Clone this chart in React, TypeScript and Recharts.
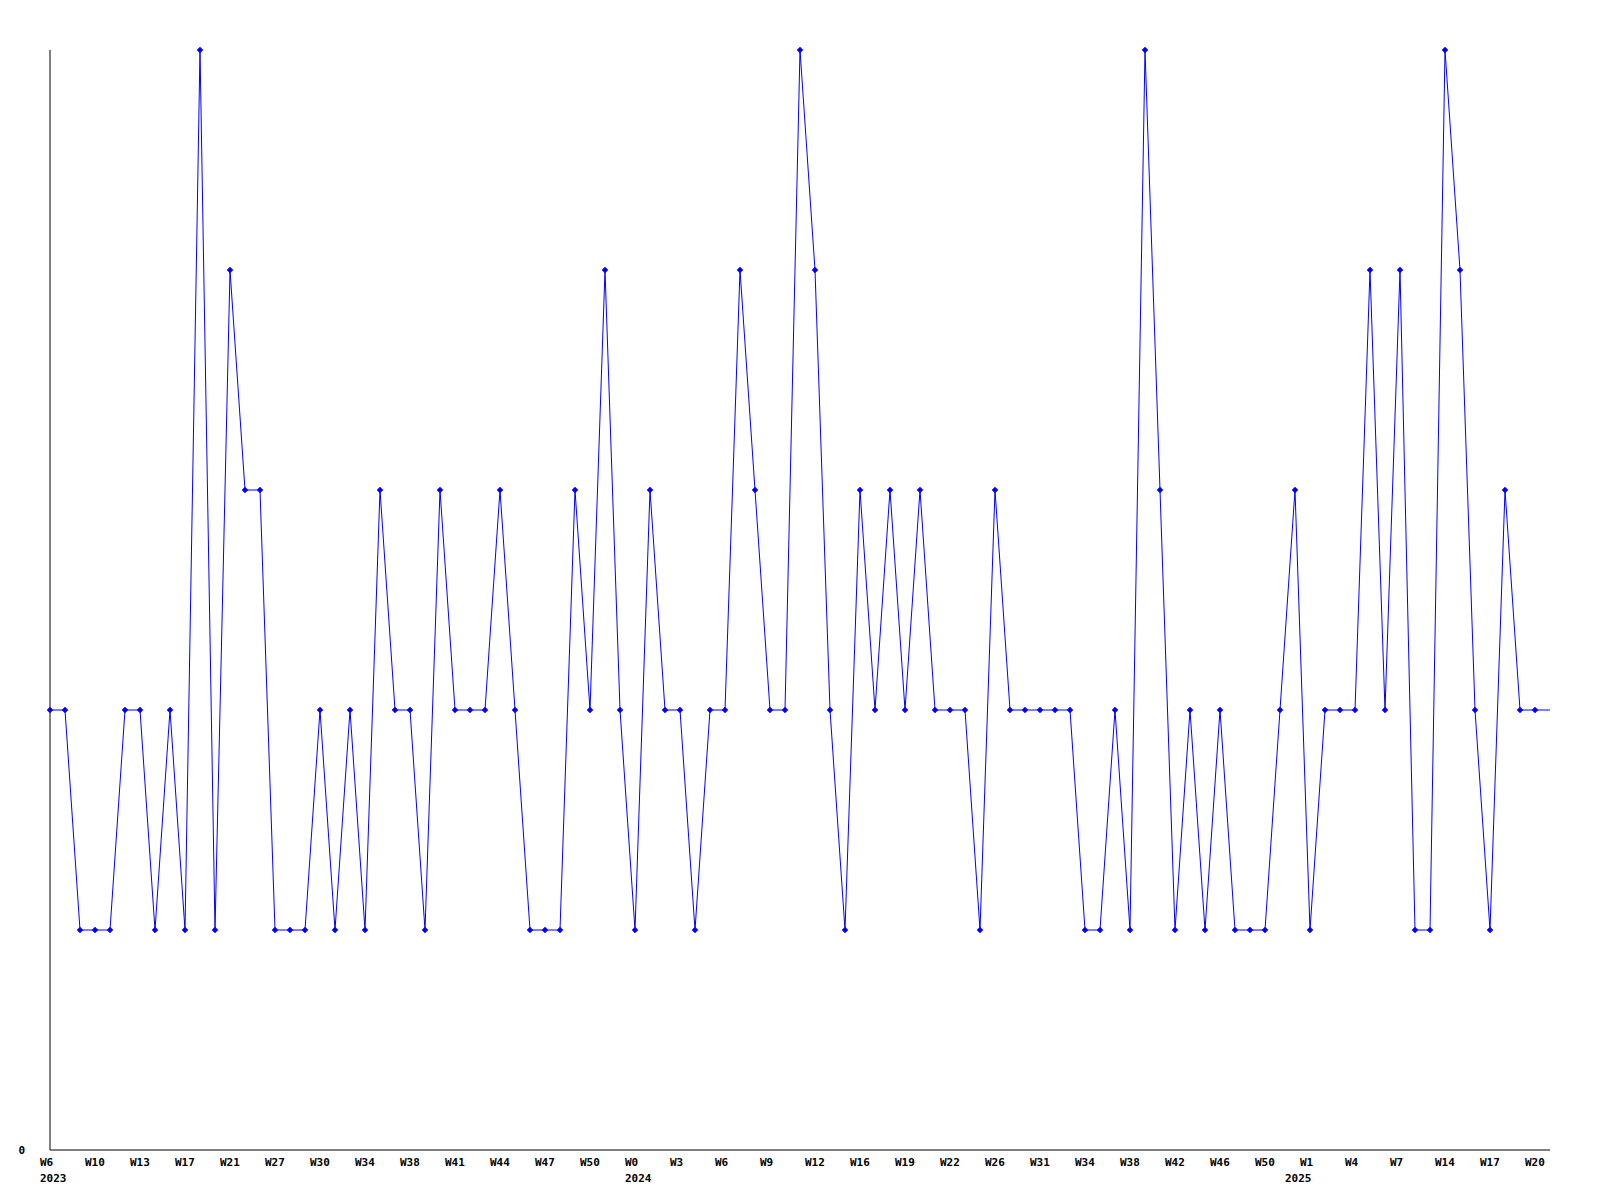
import { LineChart, Line, XAxis, YAxis } from 'recharts';

// weekly values, one per point (oldest first)
const counts = [
  2, 2, 1, 1, 1, 2, 2, 1, 2, 1,
  5, 1, 4, 3, 3, 1, 1, 1, 2, 1,
  2, 1, 3, 2, 2, 1, 3, 2, 2, 2,
  3, 2, 1, 1, 1, 3, 2, 4, 2, 1,
  3, 2, 2, 1, 2, 2, 4, 3, 2, 2,
  5, 4, 2, 1, 3, 2, 3, 2, 3, 2,
  2, 2, 1, 3, 2, 2, 2, 2, 2, 1,
  1, 2, 1, 5, 3, 1, 2, 1, 2, 1,
  1, 1, 2, 3, 1, 2, 2, 2, 4, 2,
  4, 1, 1, 5, 4, 2, 1, 3, 2, 2,
  2,
];

// labels shown on every third point
const weekLabels = [
  'W6', 'W10', 'W13', 'W17', 'W21', 'W27', 'W30', 'W34', 'W38', 'W41', 'W44', 'W47',
  'W50', 'W0', 'W3', 'W6', 'W9', 'W12', 'W16', 'W19', 'W22', 'W26', 'W31', 'W34',
  'W38', 'W42', 'W46', 'W50', 'W1', 'W4', 'W7', 'W14', 'W17', 'W20',
];
// year label sits on the point where the year starts
const yearLabels: Record<number, string> = { 0: '2023', 39: '2024', 83: '2025' };

const yTicks = [0];

const data = counts.map((value, idx) => ({ idx, value }));

const FONT = '"DejaVu Sans Mono", monospace';

const WeekTick = (props: any) => {
  const { x, y, payload } = props;
  const idx = payload.value;
  const week = idx % 3 === 0 ? weekLabels[idx / 3] : undefined;
  const year = yearLabels[idx];
  if (!week && !year) return null;
  return (
    <g>
      {week && (
        <text x={x - 10} y={y + 8} fontFamily={FONT} fontSize={11} fontWeight="bold" fill="#000">
          {week}
        </text>
      )}
      {year && (
        <text x={x - 10} y={y + 24} fontFamily={FONT} fontSize={11} fontWeight="bold" fill="#000">
          {year}
        </text>
      )}
    </g>
  );
};

const CountTick = (props: any) => {
  const { y, payload } = props;
  return (
    <text x={25} y={y + 4} textAnchor="end" fontFamily={FONT} fontSize={11} fontWeight="bold" fill="#000">
      {payload.value}
    </text>
  );
};

const Marker = (props: any) => {
  const { cx, cy, index } = props;
  // the last point is drawn without a marker
  if (index === counts.length - 1) return <g key={`m-${index}`} />;
  return (
    <path
      key={`m-${index}`}
      d={`M${cx - 3},${cy} L${cx},${cy - 3} L${cx + 3},${cy} L${cx},${cy + 3} Z`}
      fill="#0000ff"
      stroke="#0000ff"
      strokeWidth={0.5}
    />
  );
};

const App = () => {
  return (
    <div style={{ position: 'absolute', left: 0, top: 0, width: 1600, height: 1200, background: '#fff' }}>
      <LineChart width={1600} height={1200} data={data} margin={{ top: 50, right: 50, left: 0, bottom: 0 }}>
        <XAxis
          dataKey="idx"
          type="category"
          interval={0}
          height={50}
          tick={<WeekTick />}
          tickLine={false}
          axisLine={{ stroke: '#000', strokeWidth: 1 }}
        />
        <YAxis
          domain={[0, 5]}
          ticks={yTicks}
          width={50}
          tick={<CountTick />}
          tickLine={false}
          axisLine={{ stroke: '#000', strokeWidth: 1 }}
        />
        <Line
          type="linear"
          dataKey="value"
          stroke="#0000ff"
          strokeWidth={1}
          dot={<Marker />}
          activeDot={false}
          isAnimationActive={false}
        />
      </LineChart>
    </div>
  );
};

export default App;
